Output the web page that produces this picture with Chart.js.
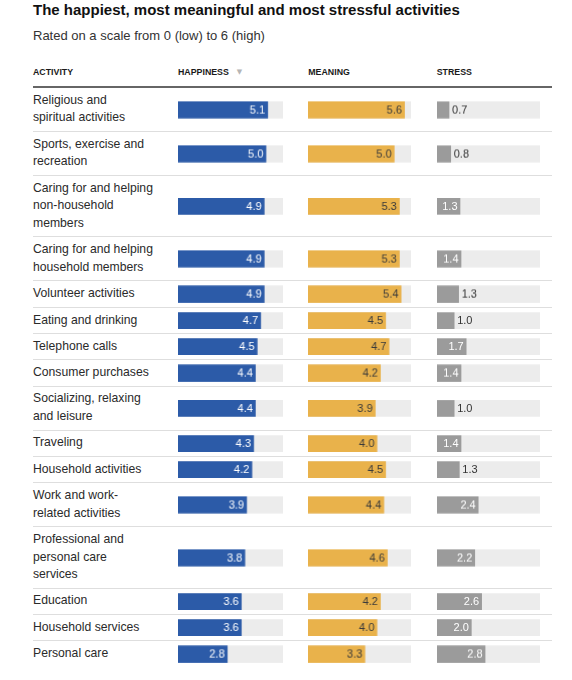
<!DOCTYPE html>
<html>
<head>
<meta charset="utf-8">
<script src="https://cdn.jsdelivr.net/npm/chart.js@4.4.1/dist/chart.umd.min.js"></script>
<style>
html,body{margin:0;padding:0;background:#fff;}
body{font-family:"Liberation Sans",Arial,sans-serif;color:#222;width:572px;height:680px;overflow:hidden;position:relative;}
#title{position:absolute;left:33px;top:0;font-weight:bold;font-size:15px;line-height:19px;color:#111;white-space:nowrap;}
#subtitle{position:absolute;left:33px;top:25.5px;font-size:13px;line-height:19px;color:#333;white-space:nowrap;}
#table{position:absolute;left:33px;top:62px;width:519px;}
.head{display:flex;height:24px;box-sizing:content-box;border-bottom:2px solid #666;font-weight:bold;font-size:8.8px;line-height:12px;color:#1a1a1a;}
.head div{padding-top:4px;white-space:nowrap;}
.row{display:flex;border-bottom:1px solid #dedede;}
.row.last{border-bottom:none;}
.lab{width:145px;flex:none;padding:3.83px 0;font-size:12.2px;line-height:17.64px;color:#2a2a2a;white-space:nowrap;}
.c1{width:130.3px;flex:none;position:relative;}
.c2{width:128.4px;flex:none;position:relative;}
.c3{width:115.3px;flex:none;position:relative;}
.box{position:absolute;left:0;top:0;bottom:0;}
.c1 .box{width:104.5px;}
.c2 .box{width:102.4px;}
.c3 .box{width:103px;}
.arrow{color:#b5b5b5;font-size:7px;margin-left:8px;font-family:"DejaVu Sans",sans-serif;vertical-align:1px;}
</style>
</head>
<body>
<div id="title">The happiest, most meaningful and most stressful activities</div>
<div id="subtitle">Rated on a scale from 0 (low) to 6 (high)</div>
<div id="table"></div>
<script>
// ---- data ----
const activities = [
  "Religious and\nspiritual activities",
  "Sports, exercise and\nrecreation",
  "Caring for and helping\nnon-household\nmembers",
  "Caring for and helping\nhousehold members",
  "Volunteer activities",
  "Eating and drinking",
  "Telephone calls",
  "Consumer purchases",
  "Socializing, relaxing\nand leisure",
  "Traveling",
  "Household activities",
  "Work and work-\nrelated activities",
  "Professional and\npersonal care\nservices",
  "Education",
  "Household services",
  "Personal care"
];
const happiness = [5.1, 5.0, 4.9, 4.9, 4.9, 4.7, 4.5, 4.4, 4.4, 4.3, 4.2, 3.9, 3.8, 3.6, 3.6, 2.8];
const meaning   = [5.6, 5.0, 5.3, 5.3, 5.4, 4.5, 4.7, 4.2, 3.9, 4.0, 4.5, 4.4, 4.6, 4.2, 4.0, 3.3];
const stress    = [0.7, 0.8, 1.34, 1.4, 1.26, 1.0, 1.7, 1.4, 1.0, 1.4, 1.3, 2.4, 2.2, 2.6, 2.0, 2.8];
const columnHeaders = ["ACTIVITY", "HAPPINESS", "MEANING", "STRESS"];
const scaleMin = 0;
const scaleMax = 6;

// ---- styles ----
const TRACK = '#ececec';
const columns = [
  {cls:'c1', values:happiness, color:'#2c5ba8', label:{insideMin:0, insideColor:'#ffffff', outsideColor:'#333333'}},
  {cls:'c2', values:meaning,   color:'#e9b24b', label:{insideMin:0, insideColor:'#3a3a3a', outsideColor:'#333333'}},
  {cls:'c3', values:stress,    color:'#9b9b9b', label:{insideMin:1.33, insideColor:'#ffffff', outsideColor:'#333333'}}
];

const valueLabels = {
  id:'valueLabels',
  afterDatasetsDraw(chart, args, opts){
    const el = chart.getDatasetMeta(0).data[0];
    const v = chart.data.datasets[0].data[0];
    const ctx = chart.ctx;
    ctx.save();
    ctx.font = '11px "Liberation Sans", Arial, sans-serif';
    ctx.textBaseline = 'middle';
    const txt = v.toFixed(1);
    if (v >= opts.insideMin) {
      ctx.fillStyle = opts.insideColor; ctx.textAlign = 'right';
      ctx.fillText(txt, el.x - 2.5, el.y + 0.5);
    } else {
      ctx.fillStyle = opts.outsideColor; ctx.textAlign = 'left';
      ctx.fillText(txt, el.x + 3, el.y + 0.5);
    }
    ctx.restore();
  }
};

const table = document.getElementById('table');
// header
const head = document.createElement('div');
head.className = 'head';
const hw = ['145px','130.3px','128.4px','115.3px'];
columnHeaders.forEach((h, i) => {
  const d = document.createElement('div');
  d.style.width = hw[i];
  d.textContent = h;
  if (i === 1) {
    const a = document.createElement('span');
    a.className = 'arrow';
    a.textContent = '▼';
    d.appendChild(a);
  }
  head.appendChild(d);
});
table.appendChild(head);

const canvases = [];
activities.forEach((name, r) => {
  const row = document.createElement('div');
  row.className = 'row' + (r === activities.length - 1 ? ' last' : '');
  const lab = document.createElement('div');
  lab.className = 'lab';
  name.split('\n').forEach((line, k) => {
    if (k) lab.appendChild(document.createElement('br'));
    lab.appendChild(document.createTextNode(line));
  });
  row.appendChild(lab);
  columns.forEach((col, c) => {
    const cell = document.createElement('div');
    cell.className = col.cls;
    const box = document.createElement('div');
    box.className = 'box';
    const cv = document.createElement('canvas');
    box.appendChild(cv);
    cell.appendChild(box);
    row.appendChild(cell);
    canvases.push({cv, r, c});
  });
  table.appendChild(row);
});

canvases.forEach(({cv, r, c}) => {
  const col = columns[c];
  new Chart(cv, {
    type:'bar',
    data:{
      labels:[activities[r]],
      datasets:[
        {data:[col.values[r]], backgroundColor:col.color, barThickness:16, grouped:false, order:0},
        {data:[scaleMax], backgroundColor:TRACK, barThickness:16, grouped:false, order:1}
      ]
    },
    options:{
      indexAxis:'y',
      responsive:true,
      maintainAspectRatio:false,
      animation:false,
      events:[],
      layout:{padding:0},
      scales:{
        x:{display:false, min:scaleMin, max:scaleMax},
        y:{display:false}
      },
      plugins:{legend:{display:false}, tooltip:{enabled:false}, valueLabels:col.label}
    },
    plugins:[valueLabels]
  });
});
</script>
</body>
</html>
